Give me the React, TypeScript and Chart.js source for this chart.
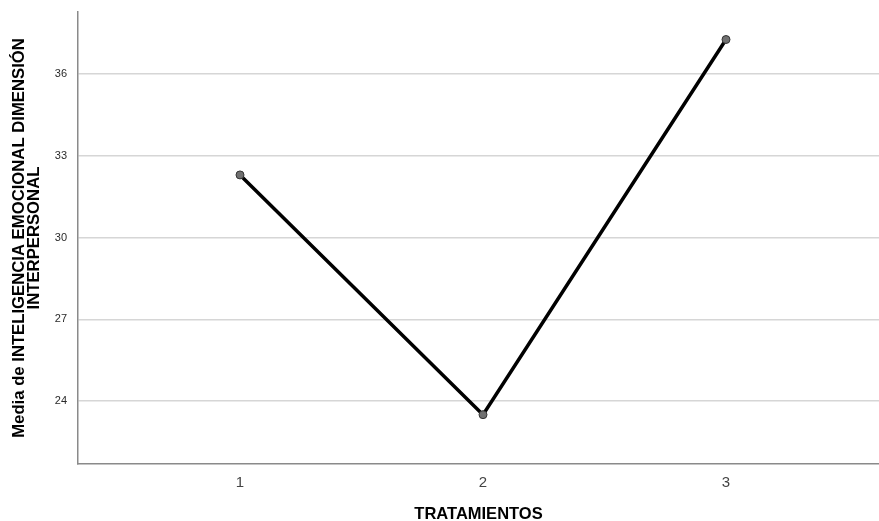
import React, { useEffect, useRef } from "react";
import { Chart, registerables } from "chart.js";

Chart.register(...registerables);

const categories = [1, 2, 3];
const means = [32.3, 23.5, 37.27];
const yTicks = [24, 27, 30, 33, 36];
const xTitle = "TRATAMIENTOS";
const yTitle = ["Media de INTELIGENCIA EMOCIONAL DIMENSIÓN", "INTERPERSONAL"];

export default function App() {
  const ref = useRef<HTMLCanvasElement | null>(null);

  useEffect(() => {
    document.body.style.margin = "0";
    document.body.style.overflow = "hidden";
    const canvas = ref.current!;
    const chart = new Chart(canvas, {
      type: "line",
      data: {
        datasets: [
          {
            data: categories.map((c, i) => ({ x: c, y: means[i] })),
            borderColor: "#000000",
            borderWidth: 3.5,
            pointRadius: 4,
            pointBackgroundColor: "#707070",
            pointBorderColor: "#333333",
            pointBorderWidth: 1,
            tension: 0,
            clip: false,
          },
        ],
      },
      options: {
        responsive: false,
        animation: false,
        layout: { autoPadding: false, padding: { top: 12, right: 0, left: 0, bottom: 0 } },
        plugins: { legend: { display: false }, tooltip: { enabled: false } },
        scales: {
          x: {
            type: "linear",
            min: 0.3333,
            max: 3.6296,
            afterBuildTicks: (s: any) => {
              s.ticks = categories.map((v) => ({ value: v }));
            },
            afterFit: (s: any) => {
              s.height = 57;
              s.paddingLeft = 0;
              s.paddingRight = 0;
            },
            grid: { display: false, drawTicks: false },
            border: { display: true, color: "#8a8a8a", width: 1.5 },
            ticks: {
              padding: 10,
              color: "#444444",
              font: { family: "Liberation Sans", size: 15 },
              maxRotation: 0,
              autoSkip: false,
            },
            title: {
              display: true,
              text: xTitle,
              color: "#000000",
              padding: { top: 0, bottom: -2 },
              font: { family: "Liberation Sans", size: 16.5, weight: "bold", lineHeight: 1 },
            },
          },
          y: {
            type: "linear",
            min: 21.69,
            max: 38.28,
            afterBuildTicks: (s: any) => {
              s.ticks = yTicks.map((v) => ({ value: v }));
            },
            afterFit: (s: any) => {
              s.width = 78;
              s.paddingTop = 0;
              s.paddingBottom = 0;
            },
            grid: { color: "#d6d6d6", lineWidth: 1.5, drawTicks: false },
            border: { display: true, color: "#8a8a8a", width: 1.5 },
            ticks: {
              padding: 11,
              color: "#2a2a2a",
              font: { family: "Liberation Sans", size: 11 },
            },
            title: {
              display: true,
              text: yTitle,
              color: "#000000",
              padding: { top: 11, bottom: 0 },
              font: { family: "Liberation Sans", size: 16.7, weight: "bold", lineHeight: 0.95 },
            },
          },
        },
      },
    });
    return () => chart.destroy();
  }, []);

  return (
    <div style={{ position: "fixed", left: 0, top: 0, width: 879, height: 521, background: "#ffffff" }}>
      <canvas ref={ref} width={879} height={521} style={{ width: 879, height: 521, display: "block" }} />
    </div>
  );
}
